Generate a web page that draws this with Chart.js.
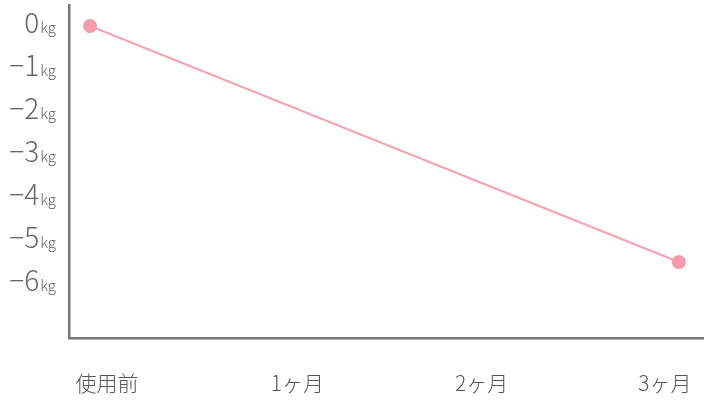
<!DOCTYPE html>
<html>
<head>
<meta charset="utf-8">
<script src="https://cdn.jsdelivr.net/npm/chart.js@4.4.0/dist/chart.umd.min.js"></script>
<style>
  html, body { margin: 0; padding: 0; background: #fff; }
  #wrap { width: 704px; height: 402px; }
</style>
</head>
<body>
<div id="wrap"><canvas id="weightChart" width="704" height="402"></canvas></div>
<script>
// data
const categories = ['使用前', '1ヶ月', '2ヶ月', '3ヶ月'];
const weightChange = [0, null, null, -5.5];
const yTickValues = [0, -1, -2, -3, -4, -5, -6];
const yUnit = 'kg';

const textColor = '#666';
const axisColor = '#777';
const fontFamily = '"Noto Sans CJK JP", "Noto Sans", sans-serif';

// y labels: big number + small unit, x labels under the axis
const labelPlugin = {
    id: 'labelPlugin',
    afterDraw(chart, args, opts) {
        const ctx = chart.ctx;
        const yScale = chart.scales.y;
        const xScale = chart.scales.x;
        ctx.save();
        ctx.fillStyle = textColor;
        ctx.textBaseline = 'alphabetic';
        yTickValues.forEach(v => {
            const y = yScale.getPixelForValue(v) + 7;
            ctx.font = '300 15px ' + fontFamily;
            ctx.textAlign = 'right';
            ctx.fillText(yUnit, 56, y);
            const unitW = ctx.measureText(yUnit).width;
            ctx.font = '300 28px ' + fontFamily;
            const num = v === 0 ? '0' : '\u2212' + Math.abs(v);
            ctx.fillText(num, 56 - unitW - 1, y);
        });
        ctx.font = '300 21px ' + fontFamily;
        ctx.fillStyle = '#555';
        ctx.textAlign = 'center';
        ctx.textBaseline = 'middle';
        categories.forEach((c, i) => {
            const x = xScale.getPixelForValue(i) + opts.nudge[i];
            ctx.fillText(c, x, 383);
        });
        ctx.restore();
    }
};

const hidden = { display: false, padding: 0 };
const noGrid = { display: false, drawTicks: false, tickLength: 0 };

const ctx = document.getElementById('weightChart').getContext('2d');
new Chart(ctx, {
    type: 'line',
    data: {
        datasets: [{
            data: weightChange.map((v, i) => ({ x: i, y: v })),
            borderColor: '#f5a3ae',
            borderWidth: 2,
            pointRadius: weightChange.map(v => v === null ? 0 : 7),
            pointHoverRadius: 7,
            pointBackgroundColor: '#f59aa8',
            pointBorderWidth: 0,
            spanGaps: true,
            tension: 0
        }]
    },
    options: {
        responsive: false,
        animation: false,
        layout: { autoPadding: false, padding: { left: 69, right: 0, top: 5, bottom: 64 } },
        plugins: {
            legend: { display: false },
            tooltip: { enabled: false },
            labelPlugin: { nudge: [17, 11, -1, -14] }
        },
        scales: {
            x: {
                type: 'linear',
                min: -0.107,
                max: 3.128,
                ticks: hidden,
                grid: noGrid,
                border: { display: true, color: axisColor, width: 2.5 }
            },
            y: {
                min: -7.27,
                max: 0.49,
                ticks: hidden,
                grid: noGrid,
                border: { display: true, color: axisColor, width: 2.5 }
            }
        }
    },
    plugins: [labelPlugin]
});
</script>
</body>
</html>
